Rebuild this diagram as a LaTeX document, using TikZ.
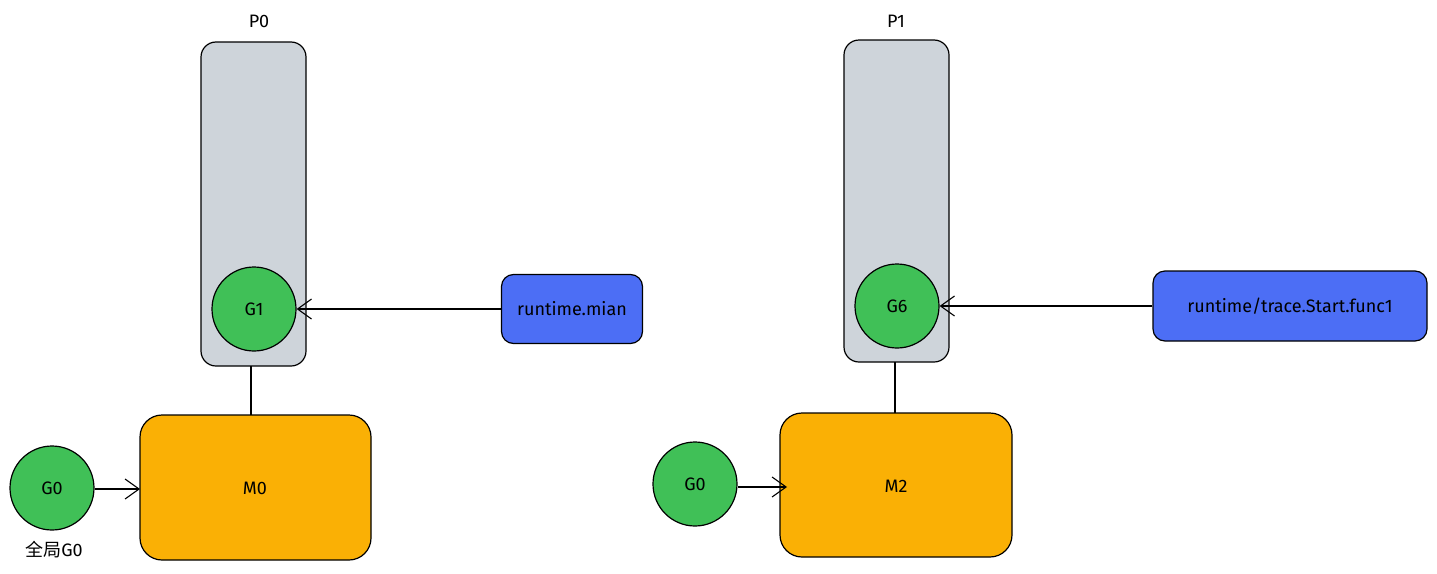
\documentclass[tikz,border=0pt]{standalone}
\usepackage{fontspec}
\setmainfont{Fira Sans}
\newfontfamily\cjk{Noto Sans CJK SC}
\usetikzlibrary{arrows.meta}
\definecolor{pgray}{HTML}{CED4DA}
\definecolor{ggreen}{HTML}{40C057}
\definecolor{fblue}{HTML}{4C6EF5}
\definecolor{morange}{HTML}{FAB005}
\begin{document}
\begin{tikzpicture}[x=1pt,y=-1pt,
  every node/.style={font=\fontsize{18}{21}\selectfont, text=black},
  pbox/.style={draw=black, line width=1.2pt, fill=pgray, rounded corners=15pt},
  mbox/.style={draw=black, line width=1.2pt, fill=morange, rounded corners=22pt},
  fbox/.style={draw=black, line width=1.2pt, fill=fblue, rounded corners=12pt},
  gcirc/.style={circle, draw=black, line width=1.2pt, fill=ggreen, minimum size=84pt, inner sep=0pt},
  conn/.style={draw=black, line width=1.1pt},
  arr/.style={conn, -{Straight Barb[length=14pt, width=20pt, line width=1.1pt]}},
  lbl/.style={inner sep=0pt}
]
\useasboundingbox (0,0) rectangle (1437,573);
% left group
\node[lbl] (p0label) at (259,21) {P0};
\draw[pbox] (201,42) rectangle (306,366);
\coordinate (p0bot) at (251,366);
\node[gcirc] (g1) at (254,309) {G1};
\node[fbox, minimum width=141pt, minimum height=69pt] (rtmain) at (572,309) {runtime.mian};
\draw[arr] (rtmain.west) -- (g1.east);
\draw[mbox] (140,415) rectangle (371,560);
\node[lbl] (m0) at (255,488) {M0};
\coordinate (m0top) at (251,415);
\draw[conn] (p0bot) -- (m0top);
\node[gcirc] (g0a) at (52,488) {G0};
\coordinate (m0left) at (140,489);
\draw[arr] (g0a.east |- m0left) -- (m0left);
\node[lbl] (global) at (54,550) {{\cjk 全局}G0};
% right group
\node[lbl] (p1label) at (896,21) {P1};
\draw[pbox] (844,40) rectangle (949,362);
\coordinate (p1bot) at (895,362);
\node[gcirc] (g6) at (897,306) {G6};
\node[fbox, minimum width=274pt, minimum height=70pt] (rttrace) at (1290,306) {runtime/trace.Start.func1};
\draw[arr] (rttrace.west) -- (g6.east);
\draw[mbox] (780,413) rectangle (1012,557);
\node[lbl] (m2) at (896,486) {M2};
\coordinate (m2top) at (895,413);
\draw[conn] (p1bot) -- (m2top);
\node[gcirc] (g0b) at (695,484) {G0};
\coordinate (m2left) at (787,487);
\draw[arr] (g0b.east |- m2left) -- (m2left);
\end{tikzpicture}
\end{document}
